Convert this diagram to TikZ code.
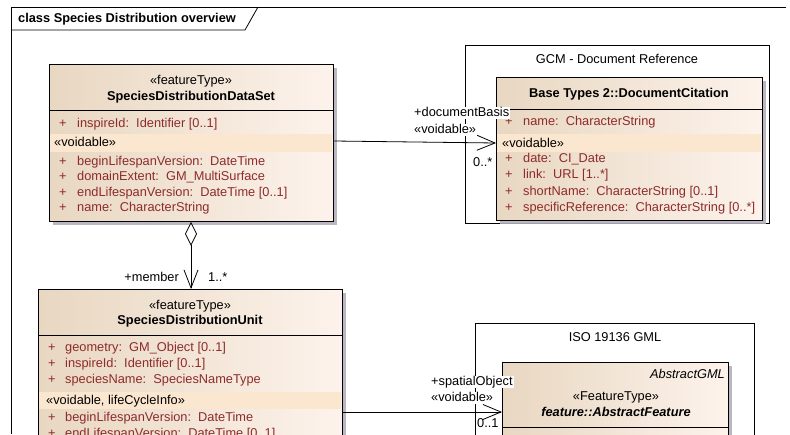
\documentclass[tikz,border=0pt]{standalone}
\usepackage{fontspec}
\setmainfont{Liberation Sans}
\usetikzlibrary{arrows.meta,calc,shadows}
\definecolor{tanL}{HTML}{E8D7C1}
\definecolor{tanR}{HTML}{FDF3EC}
\definecolor{bandc}{HTML}{FBE6CF}
\definecolor{attrc}{HTML}{8E2B2B}
\definecolor{shadowc}{HTML}{B4B0BC}
\begin{document}
\begin{tikzpicture}[x=1pt,y=-1pt,
  font=\fontsize{12.8}{15}\selectfont,
  txt/.style={inner sep=0pt, text height=9pt, text depth=2.5pt},
  attr/.style={txt, anchor=west, text=attrc},
  plain/.style={txt, anchor=west},
  ctr/.style={txt, anchor=center},
  lbl/.style={txt, anchor=west, fill=white, inner xsep=1pt},
  classbox/.style={draw=black, line width=0.9pt, left color=tanL, right color=tanR,
    anchor=north west, inner sep=0pt,
    drop shadow={shadow xshift=4pt, shadow yshift=-4pt, fill=shadowc, opacity=0.9}},
  pkg/.style={draw=black, line width=0.8pt, fill=white, anchor=north west, inner sep=0pt},
  conn/.style={draw=black, line width=0.8pt},
  barb/.style={-{Straight Barb[length=18pt,width=15pt]}}
]
\useasboundingbox (0,0) rectangle (790,434);
\clip (0,0) rectangle (790,434);
\fill[white] (0,0) rectangle (790,434);

% frame
\draw[line width=0.8pt] (11,434) -- (11,7) -- (786,7);
\draw[line width=0.8pt] (11,30) -- (245,30) -- (258,7);
\node[plain, font=\fontsize{12.8}{15}\selectfont\bfseries] (ttl) at (18,19) {class Species Distribution overview};

% packages
\node[pkg, minimum width=304pt, minimum height=178pt] (gcm) at (465,45) {};
\node[ctr] (gcmL) at (617,60) {GCM - Document Reference};
\node[pkg, minimum width=279pt, minimum height=150pt] (iso) at (475,323) {};
\node[ctr] (isoL) at (615,338) {ISO 19136 GML};

% SpeciesDistributionDataSet
\node[classbox, minimum width=284pt, minimum height=157pt] (ds) at (49,64) {};
\fill[bandc] (50,134) rectangle (332,152);
\draw[line width=0.9pt] ($(ds.north west)+(0,46)$) -- ($(ds.north east)+(0,46)$);
\node[ctr] (dsS) at (191,81) {«featureType»};
\node[ctr, font=\fontsize{12.8}{15}\selectfont\bfseries] (dsN) at (191,97) {SpeciesDistributionDataSet};
\node[attr] (ds1) at (59,124) {\makebox[18pt][l]{+}inspireId:\ \ Identifier [0..1]};
\node[plain] (dsV) at (54,143) {«voidable»};
\node[attr] (ds2) at (59,162) {\makebox[18pt][l]{+}beginLifespanVersion:\ \ DateTime};
\node[attr] (ds3) at (59,177.5) {\makebox[18pt][l]{+}domainExtent:\ \ GM\_MultiSurface};
\node[attr] (ds4) at (59,193) {\makebox[18pt][l]{+}endLifespanVersion:\ \ DateTime [0..1]};
\node[attr] (ds5) at (59,208.5) {\makebox[18pt][l]{+}name:\ \ CharacterString};

% DocumentCitation
\node[classbox, minimum width=266pt, minimum height=143pt] (dc) at (496,77) {};
\fill[bandc] (497,134) rectangle (761,152);
\draw[line width=0.9pt] ($(dc.north west)+(0,32)$) -- ($(dc.north east)+(0,32)$);
\node[ctr, font=\fontsize{12.8}{15}\selectfont\bfseries] (dcN) at (629,94) {Base Types 2::DocumentCitation};
\node[attr] (dc1) at (505,122) {\makebox[18pt][l]{+}name:\ \ CharacterString};
\node[plain] (dcV) at (502,144) {«voidable»};
\node[attr] (dc2) at (505,159) {\makebox[18pt][l]{+}date:\ \ CI\_Date};
\node[attr] (dc3) at (505,175.5) {\makebox[18pt][l]{+}link:\ \ URL [1..*]};
\node[attr] (dc4) at (505,192) {\makebox[18pt][l]{+}shortName:\ \ CharacterString [0..1]};
\node[attr] (dc5) at (505,208) {\makebox[18pt][l]{+}specificReference:\ \ CharacterString [0..*]};

% SpeciesDistributionUnit
\node[classbox, minimum width=304pt, minimum height=170pt] (du) at (38,289) {};
\fill[bandc] (39,392) rectangle (341,409);
\draw[line width=0.9pt] ($(du.north west)+(0,46)$) -- ($(du.north east)+(0,46)$);
\node[ctr] (duS) at (190,306) {«featureType»};
\node[ctr, font=\fontsize{12.8}{15}\selectfont\bfseries] (duN) at (190,321) {SpeciesDistributionUnit};
\node[attr] (du1) at (48,348) {\makebox[17pt][l]{+}geometry:\ \ GM\_Object [0..1]};
\node[attr] (du2) at (48,364) {\makebox[17pt][l]{+}inspireId:\ \ Identifier [0..1]};
\node[attr] (du3) at (48,380) {\makebox[17pt][l]{+}speciesName:\ \ SpeciesNameType};
\node[plain] (duV) at (46,401) {«voidable, lifeCycleInfo»};
\node[attr] (du4) at (48,418) {\makebox[17pt][l]{+}beginLifespanVersion:\ \ DateTime};
\node[attr] (du5) at (48,434) {\makebox[17pt][l]{+}endLifespanVersion:\ \ DateTime [0..1]};

% AbstractFeature
\node[classbox, minimum width=226pt, minimum height=100pt] (af) at (502,362) {};
\draw[line width=0.9pt] ($(af.north west)+(0,65)$) -- ($(af.north east)+(0,65)$);
\node[txt, anchor=east, font=\fontsize{12.8}{15}\selectfont\itshape] (afG) at (725,375) {AbstractGML};
\node[ctr] (afS) at (616,397) {«FeatureType»};
\node[ctr, font=\fontsize{12.8}{15}\selectfont\bfseries\itshape] (afN) at (616,413) {feature::AbstractFeature};

% connectors
\draw[conn, barb] ($(ds.north east)+(0,77)$) coordinate (c1a) -- ($(dc.north west)+(0,66)$) coordinate (c1b);
\draw[conn, {Diamond[open,length=24pt,width=12pt]}-{Straight Barb[length=18pt,width=14pt]}]
  ($(ds.south west)+(142,0)$) coordinate (c2a) -- ($(du.north west)+(153,0)$) coordinate (c2b);
\draw[conn, barb] ($(du.north east)+(0,123)$) coordinate (c3a) -- ($(af.north west)+(0,50)$) coordinate (c3b);

% connector labels
\node[lbl] (l1a) at (413,113) {+documentBasis};
\node[lbl] (l1b) at (413,130) {«voidable»};
\node[txt, anchor=west] (l1c) at (473,163) {0..*};
\node[txt, anchor=east] (l2a) at (179,278) {+member};
\node[txt, anchor=west] (l2b) at (208,278) {1..*};
\node[lbl] (l3a) at (430,382) {+spatialObject};
\node[lbl] (l3b) at (430,398) {«voidable»};
\node[txt, anchor=west] (l3c) at (477,424) {0..1};
\end{tikzpicture}
\end{document}
